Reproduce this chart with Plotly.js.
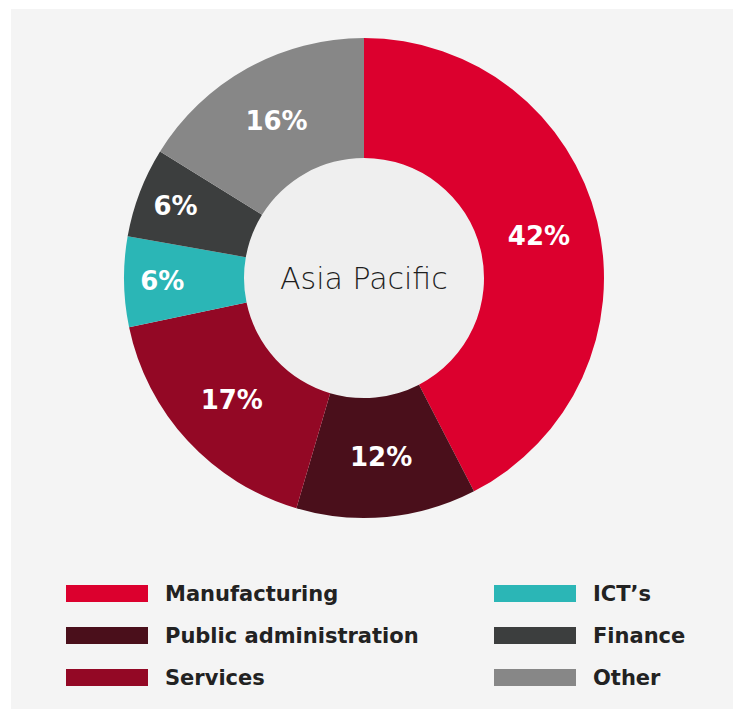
<!DOCTYPE html>
<html>
<head>
<meta charset="utf-8">
<script src="https://cdn.plot.ly/plotly-3.0.1.min.js"></script>
<style>
html,body{margin:0;padding:0;background:#ffffff;}
#chart{width:739px;height:709px;}
</style>
</head>
<body>
<div id="chart"></div>
<script>
// Data
const categories = ["Manufacturing", "Public administration", "Services", "ICT\u2019s", "Finance", "Other"];
const shares = [42, 12, 17, 6, 6, 16];
const colors = ["#dc002e", "#4a0f1b", "#930825", "#2bb6b6", "#3c3e3e", "#878787"];
const centerLabel = "Asia Pacific";
// legend layout: column index and row index for each category
const legendCol = [0, 0, 0, 1, 1, 1];
const legendRow = [0, 1, 2, 0, 1, 2];

const W = 739, H = 709;
const cx = 364, cy = 278, R = 240;
const px = x => x / W;
const py = y => 1 - y / H;

const donut = {
  type: "pie",
  values: shares,
  labels: categories,
  marker: {colors: colors, line: {width: 0}},
  hole: 0.5,
  sort: false,
  direction: "clockwise",
  rotation: 0,
  texttemplate: "%{value}%",
  textposition: "inside",
  insidetextorientation: "horizontal",
  textfont: {family: "DejaVu Sans, sans-serif", size: 26, color: "#ffffff", weight: 700},
  hoverinfo: "label+value",
  showlegend: false,
  domain: {x: [px(cx - R), px(cx + R)], y: [py(cy + R), py(cy - R)]}
};

const holeFill = {
  type: "pie",
  values: [1],
  labels: [centerLabel],
  marker: {colors: ["#efefef"], line: {width: 0}},
  textinfo: "none",
  hoverinfo: "skip",
  showlegend: false,
  sort: false,
  domain: {x: [px(cx - R / 2), px(cx + R / 2)], y: [py(cy + R / 2), py(cy - R / 2)]}
};

const shapes = [{
  type: "rect", xref: "paper", yref: "paper", layer: "below",
  x0: px(11), x1: px(733), y0: py(709), y1: py(9),
  fillcolor: "#f4f4f4", line: {width: 0}
}];
const annotations = [{
  xref: "paper", yref: "paper", x: px(cx), y: py(cy), xanchor: "center", yanchor: "middle",
  text: centerLabel, showarrow: false,
  font: {family: "DejaVu Sans, sans-serif", size: 30, color: "#1e1e1e", weight: 200}
}];

const colX = [66, 494];
const rowY = [593.5, 635.5, 677.5];
categories.forEach((c, i) => {
  const x0 = colX[legendCol[i]], yc = rowY[legendRow[i]];
  shapes.push({
    type: "rect", xref: "paper", yref: "paper",
    x0: px(x0), x1: px(x0 + 82), y0: py(yc + 8.5), y1: py(yc - 8.5),
    fillcolor: colors[i], line: {width: 0}
  });
  annotations.push({
    xref: "paper", yref: "paper", x: px(x0 + 97), y: py(yc), xanchor: "left", yanchor: "middle",
    text: c, showarrow: false,
    font: {family: "DejaVu Sans, sans-serif", size: 21, color: "#222222", weight: 700}
  });
});

const layout = {
  width: W, height: H,
  margin: {l: 0, r: 0, t: 0, b: 0},
  paper_bgcolor: "#ffffff",
  showlegend: false,
  shapes: shapes,
  annotations: annotations
};

Plotly.newPlot("chart", [holeFill, donut], layout, {displayModeBar: false, staticPlot: true});
</script>
</body>
</html>
